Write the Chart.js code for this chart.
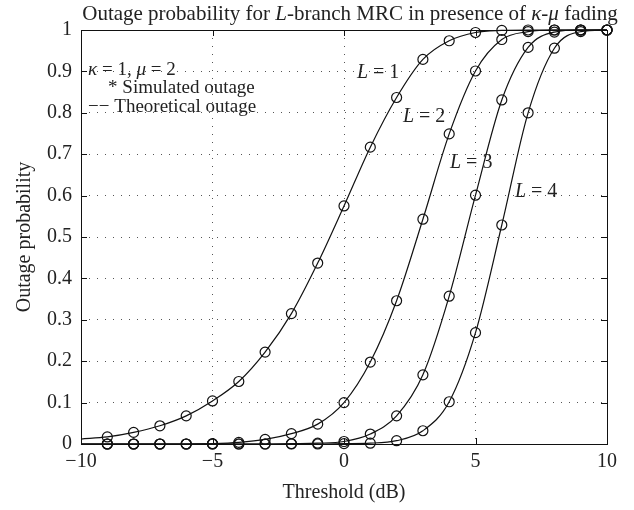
<!DOCTYPE html>
<html>
<head>
<meta charset="utf-8">
<script src="https://cdn.jsdelivr.net/npm/chart.js@4.4.1/dist/chart.umd.min.js"></script>
<style>
  html, body { margin: 0; padding: 0; background: #fff; }
  #wrap { width: 634px; height: 510px; }
</style>
</head>
<body>
<div id="wrap"><canvas id="outage_chart" width="634" height="510"></canvas></div>
<script>
/* ---------------- data ---------------- */

// threshold in dB
const thresholds = [-10, -9, -8, -7, -6, -5, -4, -3, -2, -1, 0, 1, 2, 3, 4, 5, 6, 7, 8, 9, 10];

// outage probability for L = 1..4
const outage_L1 = [0.012, 0.017, 0.028, 0.044, 0.068, 0.104, 0.151, 0.222, 0.315, 0.437, 0.575, 0.717, 0.837, 0.929, 0.974, 0.994, 0.999, 1, 1, 1, 1];
const outage_L2 = [0, 0, 0, 0, 0, 0.001, 0.004, 0.011, 0.025, 0.048, 0.1, 0.198, 0.346, 0.543, 0.749, 0.901, 0.977, 0.996, 1, 1, 1];
const outage_L3 = [0, 0, 0, 0, 0, 0, 0, 0, 0.001, 0.002, 0.006, 0.024, 0.068, 0.167, 0.357, 0.601, 0.831, 0.958, 0.995, 1, 1];
const outage_L4 = [0, 0, 0, 0, 0, 0, 0, 0, 0, 0, 0.001, 0.002, 0.008, 0.032, 0.102, 0.269, 0.529, 0.8, 0.956, 0.996, 1];

// axis ticks
const x_ticks = [-10, -5, 0, 5, 10];
const y_ticks = [0, 0.1, 0.2, 0.3, 0.4, 0.5, 0.6, 0.7, 0.8, 0.9, 1];

// curve labels ([text, italic]) and where they sit, in data units
const curve_labels = [
  [["L", true], [" = 1", false]],
  [["L", true], [" = 2", false]],
  [["L", true], [" = 3", false]],
  [["L", true], [" = 4", false]],
];
const curve_label_x = [0.49, 2.24, 4.03, 6.5];
const curve_label_y = [0.896, 0.79, 0.679, 0.609];

// note in the top-left corner
const note_lines = [
  [["κ", true], [" = 1, ", false], ["μ", true], [" = 2", false]],
  [["* Simulated outage", false]],
  [["−− Theoretical outage", false]],
];
const note_x = [-9.73, -8.97, -9.73];
const note_y = [0.903, 0.859, 0.814];

const title_parts = [
  ["Outage probability for ", false], ["L", true], ["-branch MRC in presence of ", false],
  ["κ", true], ["-", false], ["μ", true], [" fading", false],
];

/* ---------------- drawing helpers ---------------- */
const FONT = '"Liberation Serif", "Times New Roman", serif';
const TEXT_COLOR = "#222";

function fontOf(italic, size) {
  return (italic ? "italic " : "") + size + "px " + FONT;
}

function drawRich(ctx, parts, x, y, size, align) {
  let total = 0;
  parts.forEach((p) => {
    ctx.font = fontOf(p[1], size);
    total += ctx.measureText(p[0]).width;
  });
  let cx = align === "center" ? x - total / 2 : x;
  parts.forEach((p) => {
    ctx.font = fontOf(p[1], size);
    ctx.fillText(p[0], cx, y);
    cx += ctx.measureText(p[0]).width;
  });
}

// box round the axes with inward ticks on all four sides
const frame_plugin = {
  id: "frame",
  beforeDatasetsDraw(chart) {
    const { ctx, chartArea: a, scales } = chart;
    ctx.save();
    ctx.strokeStyle = "#111";
    ctx.lineWidth = 1;
    ctx.strokeRect(a.left + 0.5, a.top + 0.5, a.right - a.left, a.bottom - a.top);
    ctx.beginPath();
    x_ticks.forEach((v) => {
      const px = Math.round(scales.x.getPixelForValue(v)) + 0.5;
      ctx.moveTo(px, a.bottom); ctx.lineTo(px, a.bottom - 6);
      ctx.moveTo(px, a.top); ctx.lineTo(px, a.top + 6);
    });
    y_ticks.forEach((v) => {
      const py = Math.round(scales.y.getPixelForValue(v)) + 0.5;
      ctx.moveTo(a.left, py); ctx.lineTo(a.left + 6, py);
      ctx.moveTo(a.right, py); ctx.lineTo(a.right - 6, py);
    });
    ctx.stroke();
    ctx.restore();
  },
  afterDraw(chart) {
    const { ctx, scales } = chart;
    ctx.save();
    ctx.fillStyle = TEXT_COLOR;
    ctx.textBaseline = "middle";
    curve_labels.forEach((parts, i) => {
      drawRich(ctx, parts, scales.x.getPixelForValue(curve_label_x[i]), scales.y.getPixelForValue(curve_label_y[i]), 20, "left");
    });
    note_lines.forEach((parts, i) => {
      drawRich(ctx, parts, scales.x.getPixelForValue(note_x[i]), scales.y.getPixelForValue(note_y[i]), 19, "left");
    });
    ctx.textBaseline = "alphabetic";
    drawRich(ctx, title_parts, 350, 20, 21, "center");
    ctx.restore();
  },
};

function makeSeries(values) {
  return {
    data: thresholds.map((x, i) => ({ x: x, y: values[i] })),
    borderColor: "#111",
    borderWidth: 1.2,
    backgroundColor: "rgba(0,0,0,0)",
    pointRadius: (c) => (c.raw && c.raw.x === -10 ? 0 : 5),
    pointBorderColor: "#111",
    pointBackgroundColor: "rgba(0,0,0,0)",
    pointBorderWidth: 1.2,
    cubicInterpolationMode: "monotone",
    fill: false,
    clip: false,
  };
}

const ctx_outage = document.getElementById("outage_chart").getContext("2d");

let chart = new Chart(ctx_outage, {
  type: "line",
  data: {
    datasets: [outage_L1, outage_L2, outage_L3, outage_L4].map(makeSeries),
  },
  options: {
    responsive: false,
    animation: false,
    layout: { padding: { top: 30, right: 27, left: 0, bottom: 0 } },
    plugins: { legend: { display: false }, tooltip: { enabled: false } },
    scales: {
      x: {
        type: "linear",
        min: -10,
        max: 10,
        afterBuildTicks: (s) => { s.ticks = x_ticks.map((v) => ({ value: v })); },
        ticks: {
          padding: 6,
          color: TEXT_COLOR,
          font: { family: FONT, size: 20 },
          maxRotation: 0,
          autoSkip: false,
          callback: (v) => (v < 0 ? "\u2212" + Math.abs(v) : String(v)),
        },
        grid: { color: "#555", lineWidth: 1, drawTicks: false },
        border: { display: false, dash: [1, 7] },
        title: {
          display: true,
          text: "Threshold (dB)",
          color: TEXT_COLOR,
          font: { family: FONT, size: 20 },
          padding: { top: 0, bottom: 5 },
        },
        afterFit: (s) => { s.height = 66; },
      },
      y: {
        type: "linear",
        min: 0,
        max: 1,
        afterBuildTicks: (s) => { s.ticks = y_ticks.map((v) => ({ value: v })); },
        ticks: {
          padding: 9,
          color: TEXT_COLOR,
          font: { family: FONT, size: 20 },
          autoSkip: false,
          callback: (v) => String(Math.round(v * 10) / 10),
        },
        grid: { color: "#555", lineWidth: 1, drawTicks: false },
        border: { display: false, dash: [1, 7] },
        title: {
          display: true,
          text: "Outage probability",
          color: TEXT_COLOR,
          font: { family: FONT, size: 20 },
          padding: { top: 13, bottom: 0 },
        },
        afterFit: (s) => { s.width = 81; },
      },
    },
  },
  plugins: [frame_plugin],
});
</script>
</body>
</html>
